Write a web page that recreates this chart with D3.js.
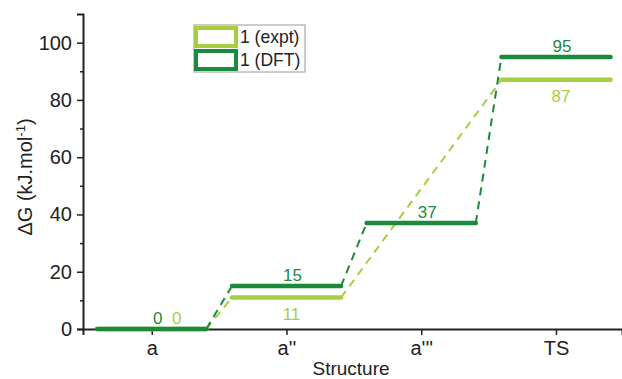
<!DOCTYPE html>
<html>
<head>
<meta charset="utf-8">
<script src="https://cdn.jsdelivr.net/npm/d3@7"></script>
<style>
  body { margin: 0; background: #fff; }
  svg text { font-family: "Liberation Sans", Arial, sans-serif; }
</style>
</head>
<body>
<script>
// data
const structures = ["a", "a''", "a'''", "TS"];
const expt = [0, 11, null, 87];
const dft = [0, 15, 37, 95];
const seriesNames = ["1 (expt)", "1 (DFT)"];
const yTicks = [0, 20, 40, 60, 80, 100];

const colExpt = "#a6cf40";
const colDft = "#1b8a3a";

const W = 622, H = 379;
const margin = { top: 14, left: 83, right: 0, bottom: 50 };

const svg = d3.select("body").append("svg")
  .attr("width", W)
  .attr("height", H);

const x = d3.scaleLinear()
  .domain([0.49, 4.49])
  .range([margin.left, W - margin.right]);

const y = d3.scaleLinear()
  .domain([0, 110])
  .range([329, margin.top]);

// axes
const yAxis = d3.axisLeft(y).tickValues(yTicks).tickSize(6).tickPadding(5);
const yMinor = d3.axisLeft(y).tickValues([10, 30, 50, 70, 90]).tickSize(3).tickFormat("");
const xAxis = d3.axisBottom(x).tickValues([1, 2, 3, 4])
  .tickFormat((d) => structures[d - 1]).tickSize(6).tickPadding(6);

const gy = svg.append("g").attr("transform", "translate(" + margin.left + ",0)").call(yAxis);
svg.append("g").attr("transform", "translate(" + margin.left + ",0)").call(yMinor)
  .select(".domain").remove();
const gx = svg.append("g").attr("transform", "translate(0," + y(0) + ")").call(xAxis);

svg.selectAll(".domain").attr("stroke", "#222").attr("stroke-width", 2);
svg.selectAll(".tick line").attr("stroke", "#222").attr("stroke-width", 1.5);
gy.selectAll(".tick text").attr("font-size", 20).attr("fill", "#222");
gx.selectAll(".tick text").attr("font-size", 20).attr("fill", "#222");

// axis titles
svg.append("text")
  .attr("transform", "translate(32," + 177 + ") rotate(-90)")
  .attr("text-anchor", "middle")
  .attr("font-size", 20)
  .attr("fill", "#222")
  .html("ΔG (kJ.mol<tspan baseline-shift='super' font-size='13'>-1</tspan>)");

svg.append("text")
  .attr("x", 351).attr("y", 375)
  .attr("text-anchor", "middle")
  .attr("font-size", 19)
  .attr("fill", "#222")
  .text("Structure");

const half = 0.405;

function drawSeries(vals, color) {
  const pts = [];
  vals.forEach((v, i) => { if (v !== null) pts.push({ i: i + 1, v: v }); });

  // dashed connectors
  for (let k = 0; k < pts.length - 1; k++) {
    const p = pts[k], q = pts[k + 1];
    svg.append("line")
      .attr("x1", x(p.i + half)).attr("y1", y(p.v))
      .attr("x2", x(q.i - half)).attr("y2", y(q.v))
      .attr("stroke", color)
      .attr("stroke-width", 2)
      .attr("stroke-dasharray", "8,6");
  }

  // levels
  svg.selectAll(null).data(pts).enter().append("line")
    .attr("x1", (d) => x(d.i - half)).attr("x2", (d) => x(d.i + half))
    .attr("y1", (d) => y(d.v)).attr("y2", (d) => y(d.v))
    .attr("stroke", color)
    .attr("stroke-width", 4.5)
    .attr("stroke-linecap", "round");

  return pts;
}

const ptsExpt = drawSeries(expt, colExpt);
const ptsDft = drawSeries(dft, colDft);

// value labels
svg.selectAll(null).data(ptsDft).enter().append("text")
  .attr("x", (d) => x(d.i) + 6)
  .attr("y", (d) => y(d.v) - 5)
  .attr("text-anchor", "middle")
  .attr("font-size", 17)
  .attr("fill", colDft)
  .text((d) => d.v);

svg.selectAll(null).data(ptsExpt).enter().append("text")
  .attr("x", (d) => x(d.i) + (d.v === 0 ? 25 : 5))
  .attr("y", (d) => d.v === 0 ? y(d.v) - 5 : y(d.v) + 22)
  .attr("text-anchor", "middle")
  .attr("font-size", 17)
  .attr("fill", colExpt)
  .text((d) => d.v);

// legend
const lg = svg.append("g").attr("transform", "translate(194,25)");
lg.append("rect")
  .attr("x", 0).attr("y", 0).attr("width", 111).attr("height", 47)
  .attr("fill", "#fff").attr("stroke", "#999").attr("stroke-width", 1);
[colExpt, colDft].forEach((c, i) => {
  lg.append("rect")
    .attr("x", 2).attr("y", 3 + i * 23).attr("width", 40).attr("height", 18)
    .attr("fill", "#fff").attr("stroke", c).attr("stroke-width", 4);
  lg.append("text")
    .attr("x", 46).attr("y", 18 + i * 23)
    .attr("font-size", 17.5)
    .attr("fill", "#222")
    .text(seriesNames[i]);
});
</script>
</body>
</html>
